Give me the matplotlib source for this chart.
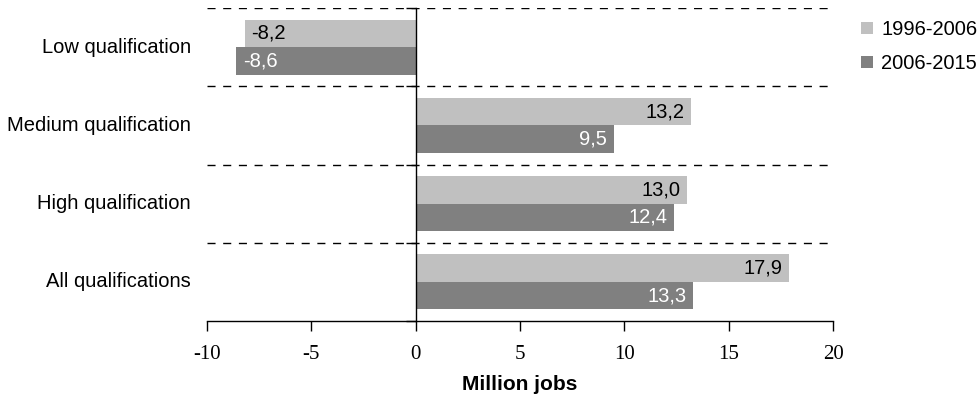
import matplotlib
matplotlib.use("Agg")
import matplotlib.pyplot as plt
from matplotlib.patches import Patch
from matplotlib.transforms import blended_transform_factory
import numpy as np

categories = ["Low qualification", "Medium qualification", "High qualification", "All qualifications"]
series_names = ["1996-2006", "2006-2015"]
values_1996_2006 = [-8.2, 13.2, 13.0, 17.9]
values_2006_2015 = [-8.6, 9.5, 12.4, 13.3]
xticks = [-10, -5, 0, 5, 10, 15, 20]
xlabel = "Million jobs"

light = "#C0C0C0"
dark = "#808080"
sans = "Liberation Sans"
serif = "Liberation Serif"
fs = 14.5

fig = plt.figure(figsize=(9.77, 3.99), dpi=100)
ax = fig.add_axes([207 / 977, 1 - 321 / 399, (833 - 207) / 977, (321 - 8) / 399])

y = np.arange(len(categories))
h = 0.35
ax.barh(y - h / 2, values_1996_2006, height=h, color=light, zorder=2)
ax.barh(y + h / 2, values_2006_2015, height=h, color=dark, zorder=2)

def fmt(v):
    return f"{v:.1f}".replace(".", ",")

pad = 0.33
for yy, v1, v2 in zip(y, values_1996_2006, values_2006_2015):
    for v, off, col in ((v1, -h / 2, "black"), (v2, h / 2, "white")):
        if v >= 0:
            ax.text(v - pad, yy + off, fmt(v), ha="right", va="center",
                    fontsize=fs, color=col, family=sans, zorder=3)
        else:
            ax.text(v + pad, yy + off, fmt(v), ha="left", va="center",
                    fontsize=fs, color=col, family=sans, zorder=3)

ax.set_xlim(-10, 20)
ax.set_ylim(len(categories) - 0.5, -0.5)

# dashed separators between category bands
for b in np.arange(-0.5, len(categories) - 0.5, 1.0):
    ax.axhline(b, color="black", lw=1.0, ls=(0, (5.8, 5.5)), zorder=1)

for s in ("right", "top"):
    ax.spines[s].set_visible(False)
ax.spines["left"].set_position(("data", 0))
ax.spines["left"].set_zorder(4)
ax.spines["left"].set_linewidth(1.0)
ax.spines["bottom"].set_linewidth(1.0)

# category-boundary ticks on the zero axis
ax.set_yticks(np.arange(-0.5, len(categories), 1.0))
ax.set_yticklabels([])
ax.tick_params(axis="y", direction="out", length=7, width=1)

ax.set_xticks(xticks)
ax.set_xticklabels([str(t) for t in xticks], family=serif, fontsize=15)
ax.tick_params(axis="x", direction="out", length=7, width=1, pad=10)

trans = blended_transform_factory(fig.transFigure, ax.transData)
for yy, c in zip(y, categories):
    ax.text(191 / 977, yy, c, transform=trans, ha="right", va="center",
            fontsize=fs, family=sans)

fig.text((207 + 833) / 2 / 977, 1 - 384 / 399, xlabel, ha="center", va="center",
         fontsize=15, fontweight="bold", family=sans)

handles = [Patch(facecolor=light, edgecolor="none"), Patch(facecolor=dark, edgecolor="none")]
fig.legend(handles, series_names, loc="upper left", bbox_to_anchor=(861 / 977, 1 - 20 / 399),
           frameon=False, prop={"family": sans, "size": fs},
           handlelength=0.6, handleheight=0.6, handletextpad=0.4, labelspacing=0.75,
           borderaxespad=0, borderpad=0)

fig.savefig("out.png", dpi=100)
